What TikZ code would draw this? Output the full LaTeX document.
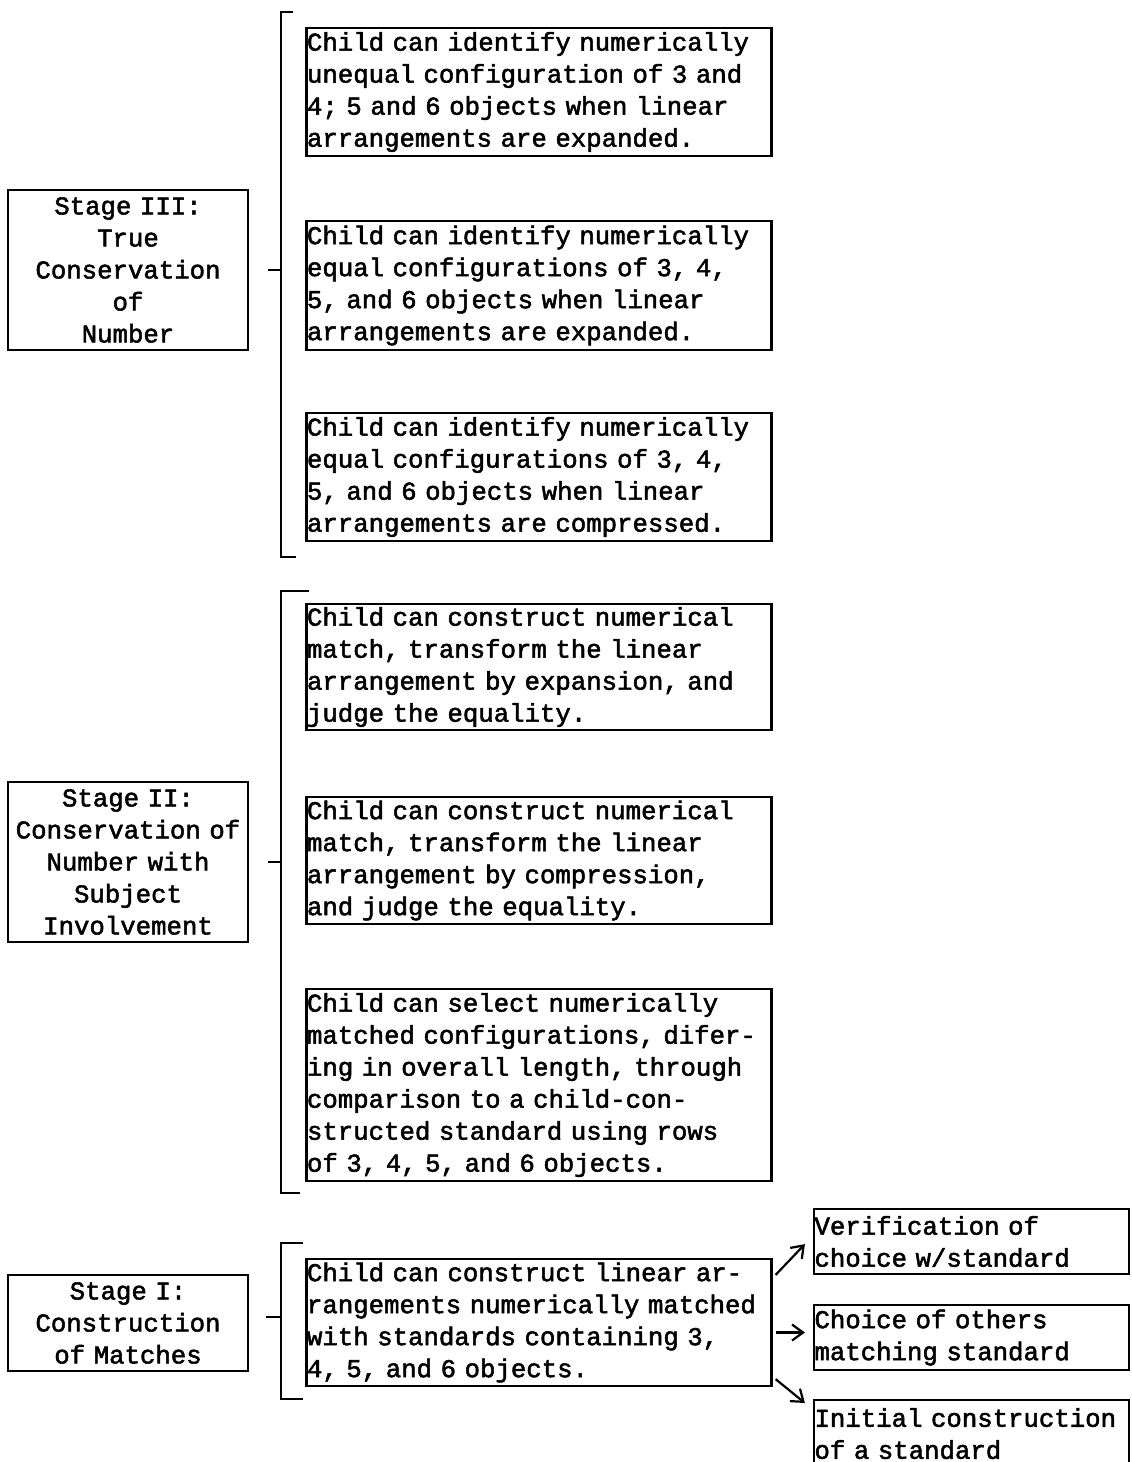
\documentclass[tikz,border=0pt]{standalone}
\usepackage{fontspec}
\newfontfamily\tw[FakeBold=2]{Liberation Mono}
\newcommand\twfont{\tw\fontsize{25.7}{32}\selectfont\fontdimen2\font=0.6em\fontdimen3\font=0pt\fontdimen4\font=0pt\relax}
\usetikzlibrary{arrows.meta,calc}
\begin{document}
\begin{tikzpicture}[x=1pt,y=-1pt,
  every node/.style={font=\twfont},
  detail/.style={draw, line width=2.2pt, inner xsep=0.5pt, inner ysep=0pt,
    align=left, text width=464pt, minimum width=465pt, minimum height=#1},
  stagebox/.style={draw, line width=2.2pt, inner xsep=1pt, inner ysep=0pt,
    align=center, text width=238pt, minimum width=240pt, minimum height=#1},
  outcome/.style={draw, line width=2.2pt, inner xsep=0.5pt, inner ysep=0pt,
    align=left, text width=314pt, minimum width=315pt, minimum height=#1},
  brk/.style={line width=2.2pt},
  arr/.style={line width=2.2pt, -{Straight Barb[length=11pt,width=16pt,line width=2.2pt]}}
]
\useasboundingbox[fill=white] (0,0) rectangle (1132,1462);

% ---------- Stage III ----------
\node[stagebox=160pt] (s3) at (128,270) {Stage III:\\True\\Conservation\\of\\Number};
\node[detail=128pt] (b3a) at (539,92) {Child can identify numerically\\unequal configuration of 3 and\\4; 5 and 6 objects when linear\\arrangements are expanded.};
\node[detail=129pt] (b3b) at (539,285.5) {Child can identify numerically\\equal configurations of 3, 4,\\5, and 6 objects when linear\\arrangements are expanded.};
\node[detail=128pt] (b3c) at (539,477) {Child can identify numerically\\equal configurations of 3, 4,\\5, and 6 objects when linear\\arrangements are compressed.};
\coordinate (k3t) at (293,12);
\coordinate (k3b) at (296,557);
\coordinate (k3m) at (268,270);
\draw[brk] (k3t) -- (281,12) -- (281,557) -- (k3b);
\draw[brk] (k3m) -- (281,270);

% ---------- Stage II ----------
\node[stagebox=160pt] (s2) at (128,862) {Stage II:\\Conservation of\\Number with\\Subject\\Involvement};
\node[detail=126pt] (b2a) at (539,667) {Child can construct numerical\\match, transform the linear\\arrangement by expansion, and\\judge the equality.};
\node[detail=127pt] (b2b) at (539,860.5) {Child can construct numerical\\match, transform the linear\\arrangement by compression,\\and judge the equality.};
\node[detail=192pt] (b2c) at (539,1085) {Child can select numerically\\matched configurations, difer-\\ing in overall length, through\\comparison to a child-con-\\structed standard using rows\\of 3, 4, 5, and 6 objects.};
\coordinate (k2t) at (309,591);
\coordinate (k2b) at (300,1193);
\coordinate (k2m) at (268,862);
\draw[brk] (k2t) -- (281,591) -- (281,1193) -- (k2b);
\draw[brk] (k2m) -- (281,862);

% ---------- Stage I ----------
\node[stagebox=96pt] (s1) at (128,1323) {Stage I:\\Construction\\of Matches};
\node[detail=127pt] (b1) at (539,1322.5) {Child can construct linear ar-\\rangements numerically matched\\with standards containing 3,\\4, 5, and 6 objects.};
\coordinate (k1t) at (303,1243);
\coordinate (k1b) at (303,1399);
\coordinate (k1m) at (266,1317);
\draw[brk] (k1t) -- (281,1243) -- (281,1399) -- (k1b);
\draw[brk] (k1m) -- (281,1317);

\node[outcome=65pt] (r1) at (971.5,1241.5) {Verification of\\choice w/standard};
\node[outcome=65pt] (r2) at (971.5,1337.5) {Choice of others\\matching standard};
\node[outcome=67pt, anchor=north] (r3) at (971.5,1399) {Initial construction\\of a standard};

\draw[arr] ($(b1.north east)+(3,17)$) -- ($(r1.south west)+(-8,-31)$);
\draw[arr] ($(b1.east)+(3,10)$) -- ($(r2.west)+(-8,-5)$);
\draw[arr] ($(b1.south east)+(3,-8)$) -- ($(r3.north west)+(-8,4)$);
\end{tikzpicture}
\end{document}
